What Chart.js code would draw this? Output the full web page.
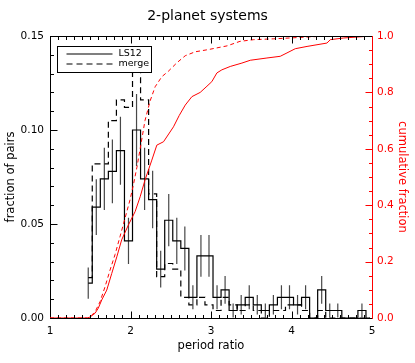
<!DOCTYPE html>
<html><head><meta charset="utf-8">
<script src="https://cdn.jsdelivr.net/npm/chart.js@4.4.0/dist/chart.umd.min.js"></script>
<style>html,body{margin:0;padding:0;background:#fff;}canvas{display:block;}</style>
</head><body>
<canvas id="c" width="415" height="363"></canvas>
<script>
// ---- data ----
const binCenters = [1.475,1.575,1.675,1.775,1.875,1.975,2.075,2.175,2.275,2.375,2.475,2.575,2.675,2.775,2.875,2.975,
  3.075,3.175,3.275,3.375,3.475,3.575,3.675,3.775,3.875,3.975,4.075,4.175,4.275,4.375,4.475,4.575,4.675,4.775,4.875,4.975];
const ls12Frac = [0.0185,0.059,0.074,0.078,0.089,0.041,0.100,0.074,0.063,0.026,0.052,0.041,0.037,0.011,0.033,0.033,
  0.011,0.015,0.004,0.007,0.011,0.007,0.004,0.007,0.011,0.011,0.007,0.011,0.000,0.015,0.004,0.004,0.000,0.000,0.004,0.000];
const ls12Err = [0.0083,0.0148,0.0166,0.0170,0.0181,0.0123,0.0192,0.0166,0.0153,0.0098,0.0139,0.0123,0.0117,0.0064,0.0111,0.0111,
  0.0064,0.0074,0.0037,0.0052,0.0064,0.0052,0.0037,0.0052,0.0064,0.0064,0.0052,0.0064,0,0.0074,0.0037,0.0037,0,0,0.0037,0];
const mergeFrac = [0.0215,0.082,0.082,0.105,0.116,0.112,0.142,0.116,0.066,0.022,0.029,0.026,0.011,0.007,0.011,0.007,
  0.004,0.011,0.007,0.004,0.007,0.004,0.000,0.004,0.004,0.007,0.007,0.004,0.000,0.004,0.000,0.000,0.000,0.000,0.000,0.000];
const cumLS12X = [1.0,1.47,1.5,1.56,1.60,1.643,1.705,1.767,1.83,1.89,1.974,2.057,2.12,2.18,2.265,2.327,2.41,2.534,2.605,2.68,
  2.763,2.866,2.95,3.01,3.073,3.135,3.239,3.384,3.488,3.695,3.86,3.944,4.047,4.193,4.44,4.483,4.648,4.897,4.95,5.0];
const cumLS12Y = [0,0,0.004,0.017,0.035,0.064,0.099,0.158,0.217,0.277,0.33,0.377,0.43,0.489,0.56,0.613,0.625,0.678,0.718,0.755,
  0.785,0.800,0.822,0.838,0.869,0.88,0.892,0.904,0.914,0.922,0.928,0.94,0.955,0.963,0.975,0.987,0.993,0.998,1.0,1.0];
const cumMergeX = [1.0,1.47,1.5,1.56,1.622,1.684,1.746,1.808,1.871,1.933,1.995,2.04,2.08,2.12,2.18,2.244,2.306,2.39,2.47,2.576,2.68,
  2.804,2.97,3.2,3.36,3.53,3.78,4.11,4.44,5.0];
const cumMergeY = [0,0,0.005,0.022,0.058,0.111,0.17,0.225,0.29,0.355,0.42,0.478,0.535,0.60,0.70,0.77,0.82,0.856,0.875,0.905,0.93,
  0.944,0.952,0.965,0.981,0.987,0.99,0.995,1.0,1.0];
const xTickLabels = ['1','2','3','4','5'];
const yTickLabels = ['0.00','0.05','0.10','0.15'];
const y2TickLabels = ['0.0','0.2','0.4','0.6','0.8','1.0'];
const seriesNames = ['LS12','merge'];

const FONT = "'DejaVu Sans', sans-serif";
const RED = 'rgb(255,0,0)';

// error bar segments (built from the read values)
const errData = [];
binCenters.forEach((c, i) => {
  if (ls12Err[i] > 0) {
    errData.push({x: c, y: Math.max(0, ls12Frac[i] - ls12Err[i])});
    errData.push({x: c, y: ls12Frac[i] + ls12Err[i]});
    errData.push({x: c, y: null});
  }
});

const idlTicks = {
  id: 'idlTicks',
  afterDraw(chart) {
    const {ctx, chartArea: a, scales} = chart;
    const {x, y, y2} = scales;
    ctx.save();
    ctx.lineWidth = 1;
    ctx.strokeStyle = '#000';
    const top = Math.round(a.top) + 0.5, bot = Math.round(a.bottom) + 0.5;
    const lft = Math.round(a.left) + 0.5, rgt = Math.round(a.right) + 0.5;
    ctx.beginPath(); ctx.moveTo(a.left, top); ctx.lineTo(a.right, top); ctx.stroke();
    // x ticks (bottom and top): minor every 0.1, major every 1
    ctx.beginPath();
    for (let k = 1; k < 40; k++) {
      const v = x.min + k * 0.1;
      const px = Math.round(x.getPixelForValue(v)) + 0.5;
      const len = (k % 10 === 0) ? 7 : 3.5;
      ctx.moveTo(px, bot); ctx.lineTo(px, bot - len);
      ctx.moveTo(px, top); ctx.lineTo(px, top + len);
    }
    // left y ticks: minor every 0.01, major every 0.05
    for (let k = 1; k < 15; k++) {
      const py = Math.round(y.getPixelForValue(k * 0.01)) + 0.5;
      const len = (k % 5 === 0) ? 7 : 3.5;
      ctx.moveTo(lft, py); ctx.lineTo(lft + len, py);
    }
    ctx.stroke();
    // right y2 ticks (red): minor every 0.05, major every 0.2
    ctx.strokeStyle = RED;
    ctx.beginPath();
    for (let k = 1; k < 20; k++) {
      const py = Math.round(y2.getPixelForValue(k * 0.05)) + 0.5;
      const len = (k % 4 === 0) ? 7 : 3.5;
      ctx.moveTo(rgt, py); ctx.lineTo(rgt - len, py);
    }
    ctx.stroke();
    ctx.restore();
  }
};

const boxLegend = {
  id: 'boxLegend',
  afterDatasetsDraw(chart) {
    const {ctx, chartArea: a} = chart;
    const bx = Math.round(a.left + 7) + 0.5, by = Math.round(a.top + 10) + 0.5;
    const bw = 94, bh = 26;
    ctx.save();
    ctx.fillStyle = '#fff';
    ctx.fillRect(bx, by, bw, bh);
    ctx.strokeStyle = '#000';
    ctx.lineWidth = 1;
    ctx.strokeRect(bx, by, bw, bh);
    const rows = [{y: by + 7.5, dash: []}, {y: by + 17.5, dash: [6, 4]}];
    ctx.font = '9.5px ' + FONT;
    ctx.textBaseline = 'middle';
    ctx.fillStyle = '#000';
    rows.forEach((r, i) => {
      ctx.setLineDash(r.dash);
      ctx.lineWidth = 1.2;
      ctx.beginPath(); ctx.moveTo(bx + 9, Math.round(r.y)); ctx.lineTo(bx + 55, Math.round(r.y)); ctx.stroke();
      ctx.setLineDash([]);
      ctx.fillText(seriesNames[i], bx + 61, r.y);
    });
    ctx.restore();
  }
};

new Chart(document.getElementById('c'), {
  type: 'line',
  data: {
    datasets: [
      {label: 'cum LS12', data: cumLS12X.map((v, i) => ({x: v, y: cumLS12Y[i]})), yAxisID: 'y2',
       borderColor: RED, borderWidth: 1, pointRadius: 0, fill: false, tension: 0, order: 0},
      {label: 'cum merge', data: cumMergeX.map((v, i) => ({x: v, y: cumMergeY[i]})), yAxisID: 'y2',
       borderColor: RED, borderWidth: 1, borderDash: [4, 3], pointRadius: 0, fill: false, tension: 0, order: 0},
      {label: seriesNames[0], data: binCenters.map((v, i) => ({x: v, y: ls12Frac[i]})), yAxisID: 'y',
       borderColor: '#000', borderWidth: 1.2, stepped: 'middle', pointRadius: 0, fill: false, order: 1},
      {label: seriesNames[1], data: binCenters.map((v, i) => ({x: v, y: mergeFrac[i]})), yAxisID: 'y',
       borderColor: '#000', borderWidth: 1.2, borderDash: [6, 4], stepped: 'middle', pointRadius: 0, fill: false, order: 1},
      {label: 'err', data: errData, yAxisID: 'y', borderColor: '#484848', borderWidth: 1.2, pointRadius: 0,
       spanGaps: false, fill: false, order: 2}
    ]
  },
  options: {
    responsive: false, animation: false, devicePixelRatio: 1,
    layout: {padding: 0},
    events: [],
    plugins: {
      legend: {display: false},
      tooltip: {enabled: false},
      title: {display: true, text: '2-planet systems', color: '#000',
              font: {family: FONT, size: 14, weight: 'normal'}, padding: {top: 8, bottom: 11.2}}
    },
    scales: {
      x: {type: 'linear', position: 'bottom', min: 1, max: 5,
          afterFit(s) { s.height = 45; },
          grid: {display: false, drawTicks: false},
          border: {display: true, color: '#000', width: 1},
          ticks: {stepSize: 1, padding: 7, color: '#000', font: {family: FONT, size: 10.5},
                  maxRotation: 0, callback: (v, i) => xTickLabels[i]},
          title: {display: true, text: 'period ratio', color: '#000', font: {family: FONT, size: 11.5},
                  padding: {top: 0, bottom: 10}}},
      y: {type: 'linear', position: 'left', min: 0, max: 0.15,
          afterFit(s) { s.width = 50; },
          grid: {display: false, drawTicks: false},
          border: {display: true, color: '#000', width: 1},
          ticks: {stepSize: 0.05, padding: 6, color: '#000', font: {family: FONT, size: 10.5},
                  callback: (v, i) => yTickLabels[i]},
          title: {display: true, text: 'fraction of pairs', color: '#000', font: {family: FONT, size: 11.5},
                  padding: {top: 4, bottom: 0}}},
      y2: {type: 'linear', position: 'right', min: 0, max: 1,
          afterFit(s) { s.width = 43; },
          grid: {display: false, drawTicks: false},
          border: {display: true, color: RED, width: 1},
          ticks: {stepSize: 0.2, padding: 5, color: RED, font: {family: FONT, size: 10.5},
                  callback: (v, i) => y2TickLabels[i]},
          title: {display: true, text: 'cumulative fraction', color: RED, font: {family: FONT, size: 11.5},
                  padding: {top: 6, bottom: 0}}}
    }
  },
  plugins: [boxLegend, idlTicks]
});
</script>
</body></html>
